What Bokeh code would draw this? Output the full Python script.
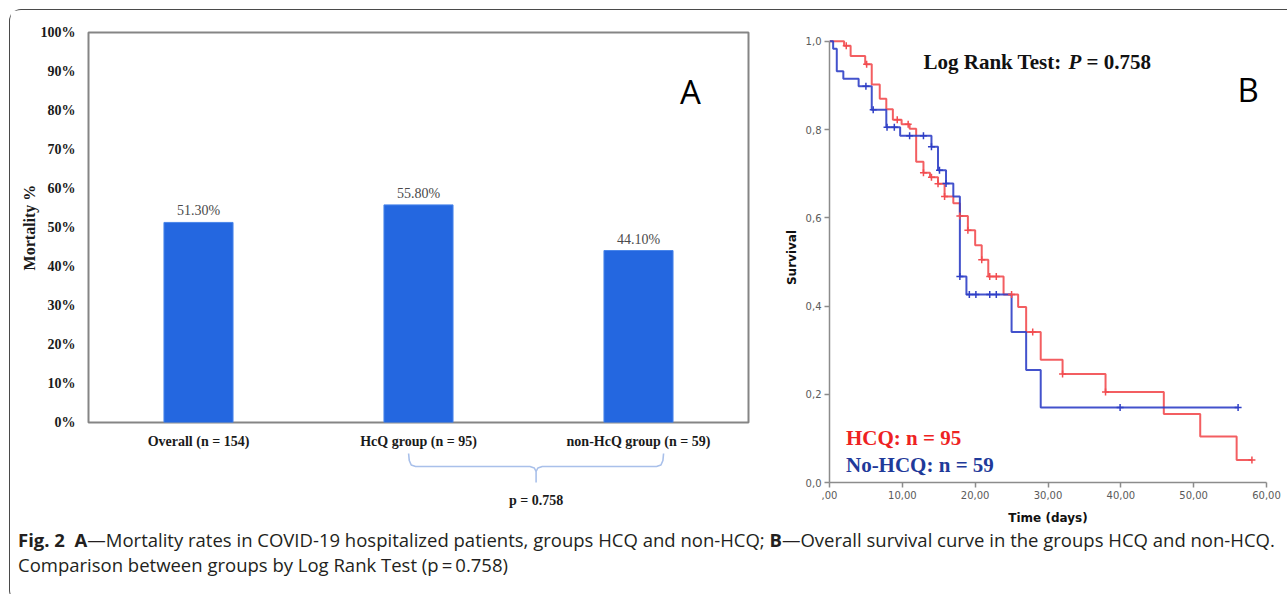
from bokeh.plotting import figure
from bokeh.models import FactorRange, Range1d, FixedTicker, Label, Div
from bokeh.layouts import row, column
from bokeh.embed import file_html
from bokeh.resources import INLINE
from bokeh.core.properties import value

# ---------------- data: panel A ----------------
categories = ["Overall (n = 154)", "HcQ group (n = 95)", "non-HcQ group (n = 59)"]
mortality = [51.3, 55.8, 44.1]
mortality_labels = ["51.30%", "55.80%", "44.10%"]
a_ticks = [0, 10, 20, 30, 40, 50, 60, 70, 80, 90, 100]
a_tick_labels = ["0%", "10%", "20%", "30%", "40%", "50%", "60%", "70%", "80%", "90%", "100%"]
p_text = "p = 0.758"

# ---------------- data: panel B (Kaplan-Meier) ----------------
hcq_time = [0, 2.0, 2.9, 4.9, 5.8, 6.9, 7.8, 8.7, 9.9, 11.0, 11.9, 12.9, 13.8, 14.9, 15.8,
            17.0, 17.9, 19.0, 20.0, 20.9, 21.8, 23.9, 25.9, 27.0, 29.0, 32.0, 37.9, 45.9,
            50.9, 55.9, 58.0]
hcq_surv = [1.0, 0.990, 0.967, 0.948, 0.902, 0.870, 0.846, 0.822, 0.812, 0.802, 0.727,
            0.702, 0.692, 0.677, 0.648, 0.633, 0.604, 0.572, 0.538, 0.505, 0.467, 0.426,
            0.398, 0.341, 0.278, 0.246, 0.205, 0.155, 0.104, 0.051, 0.051]
hcq_cens_time = [2.3, 5.1, 9.3, 10.8, 12.9, 14.0, 14.9, 15.8, 17.9, 19.0, 20.9, 22.0, 22.9,
                 25.0, 27.9, 32.0, 37.9, 58.0]
hcq_cens_surv = [0.990, 0.948, 0.822, 0.812, 0.702, 0.692, 0.677, 0.648, 0.604, 0.572, 0.505,
                 0.467, 0.467, 0.426, 0.341, 0.246, 0.205, 0.051]

nohcq_time = [0, 0.5, 1.0, 1.9, 4.0, 5.8, 7.8, 9.7, 14.0, 14.9, 16.0, 17.0, 17.9, 18.8,
              25.0, 27.0, 29.0, 56.1]
nohcq_surv = [1.0, 0.983, 0.932, 0.915, 0.898, 0.845, 0.805, 0.786, 0.761, 0.708, 0.678,
              0.648, 0.467, 0.426, 0.341, 0.255, 0.170, 0.170]
nohcq_cens_time = [5.0, 6.0, 7.9, 8.9, 11.0, 12.9, 14.0, 15.1, 16.0, 17.9, 19.2, 20.1, 22.0,
                   22.9, 39.9, 56.1]
nohcq_cens_surv = [0.898, 0.845, 0.805, 0.805, 0.786, 0.786, 0.761, 0.708, 0.678, 0.467,
                   0.426, 0.426, 0.426, 0.426, 0.170, 0.170]

b_xticks = [0, 10, 20, 30, 40, 50, 60]
b_xtick_labels = [",00", "10,00", "20,00", "30,00", "40,00", "50,00", "60,00"]
b_yticks = [0.0, 0.2, 0.4, 0.6, 0.8, 1.0]
b_ytick_labels = ["0,0", "0,2", "0,4", "0,6", "0,8", "1,0"]

SERIF = "Liberation Serif"
SANS = "DejaVu Sans"
BIG = "Open Sans"

# ---------------- panel A ----------------
pA = figure(width=770, height=442, x_range=FactorRange(*categories), y_range=Range1d(0, 100),
            output_backend="svg", toolbar_location=None,
            min_border_left=78, min_border_right=32, min_border_top=22, min_border_bottom=30)
pA.vbar(x=categories, top=mortality, width=0.314, fill_color="#2467E0", line_color="#4a86ea",
        line_width=1)
pA.text(x=categories, y=mortality, text=mortality_labels, text_align="center",
        text_baseline="bottom", y_offset=-4, text_font=value(SERIF), text_font_size="14px",
        text_color="#4a4a4a")
pA.xgrid.visible = False
pA.ygrid.visible = False
pA.outline_line_color = "#858585"
pA.outline_line_width = 2
pA.background_fill_color = "white"

ya = pA.yaxis[0]
ya.ticker = FixedTicker(ticks=a_ticks)
ya.major_label_overrides = dict(zip(a_ticks, a_tick_labels))
ya.axis_line_color = None
ya.major_tick_line_color = None
ya.minor_tick_line_color = None
ya.major_label_standoff = 7
ya.major_label_text_font = SERIF
ya.major_label_text_font_style = "bold"
ya.major_label_text_font_size = "14px"
ya.major_label_text_color = "#1a1a1a"
ya.axis_label = "Mortality %"
ya.axis_label_text_font = SERIF
ya.axis_label_text_font_style = "bold"
ya.axis_label_text_font_size = "16px"
ya.axis_label_text_color = "#1a1a1a"
ya.axis_label_standoff = 0

xa = pA.xaxis[0]
xa.axis_line_color = None
xa.major_tick_line_color = None
xa.major_label_standoff = 5
xa.major_label_text_font = SERIF
xa.major_label_text_font_style = "bold"
xa.major_label_text_font_size = "14px"
xa.major_label_text_color = "#1a1a1a"

pA.add_layout(Label(x=2.736, y=85.0, text="A", text_font=BIG, text_font_size="33px",
                    text_align="center", text_baseline="middle", text_color="black"))

# ---------------- brace under panel A ----------------
pBr = figure(width=770, height=76, x_range=Range1d(0, len(categories)), y_range=Range1d(76, 0),
             output_backend="svg", toolbar_location=None, x_axis_type=None, y_axis_type=None,
             min_border_left=78, min_border_right=32, min_border_top=0, min_border_bottom=0)
pBr.outline_line_color = None
pBr.xgrid.visible = False
pBr.ygrid.visible = False
c1 = categories.index("HcQ group (n = 95)") + 0.5
c2 = categories.index("non-HcQ group (n = 59)") + 0.5
bl = c1 - 0.045
br = c2 + 0.114
bm = (bl + br) / 2
d = 0.02
pBr.multi_line(xs=[[bl, bl + 0.003, bl + d * 0.6, bl + d * 1.6, bm - d * 1.4, bm - d * 0.4, bm, bm],
                   [bm, bm + d * 0.4, bm + d * 1.4, br - d * 1.6, br - d * 0.6, br - 0.003, br]],
               ys=[[1, 8, 12.5, 14, 14, 15.5, 19, 30],
                   [19, 15.5, 14, 14, 12.5, 8, 1]],
               line_color="#a9c0ea", line_width=1.6)
pBr.text(x=[bm], y=[47.5], text=[p_text], text_align="center", text_baseline="middle",
         text_font=value(SERIF), text_font_style="bold", text_font_size="14px",
         text_color="#1a1a1a")

# ---------------- panel B ----------------
pB = figure(width=506, height=518, x_range=Range1d(0, 60), y_range=Range1d(0, 1.02),
            output_backend="svg", toolbar_location=None,
            min_border_left=49, min_border_right=20, min_border_top=22, min_border_bottom=46)
pB.outline_line_color = None
pB.xgrid.visible = False
pB.ygrid.visible = False

RED = "#F24C50"
BLUE = "#2F3FC6"
pB.step(x=hcq_time, y=hcq_surv, mode="after", line_color=RED, line_width=2, line_alpha=0.9)
pB.step(x=nohcq_time, y=nohcq_surv, mode="after", line_color=BLUE, line_width=2, line_alpha=0.9)
pB.scatter(x=hcq_cens_time, y=hcq_cens_surv, marker="cross", size=7, line_color=RED,
           line_width=1.5)
pB.scatter(x=nohcq_cens_time, y=nohcq_cens_surv, marker="cross", size=7, line_color=BLUE,
           line_width=1.5)

for ax, ticks, labels in ((pB.xaxis[0], b_xticks, b_xtick_labels),
                          (pB.yaxis[0], b_yticks, b_ytick_labels)):
    ax.ticker = FixedTicker(ticks=ticks)
    ax.major_label_overrides = dict(zip(ticks, labels))
    ax.axis_line_color = "#8c8c8c"
    ax.axis_line_width = 1.5
    ax.major_tick_line_color = "#8c8c8c"
    ax.major_tick_line_width = 1.5
    ax.major_tick_out = 5
    ax.major_tick_in = 0
    ax.minor_tick_line_color = None
    ax.major_label_text_font = SANS
    ax.major_label_text_font_size = "10px"
    ax.major_label_text_color = "#5a5a5a"
    ax.major_label_standoff = 3
    ax.axis_label_text_font = SANS
    ax.axis_label_text_font_style = "bold"
    ax.axis_label_text_font_size = "12px"
    ax.axis_label_text_color = "#111111"
pB.xaxis[0].bounds = (0, 60)
pB.yaxis[0].bounds = (0, 1)
pB.xaxis[0].axis_label = "Time (days)"
pB.xaxis[0].axis_label_standoff = 9
pB.yaxis[0].axis_label = "Survival"
pB.yaxis[0].axis_label_standoff = 4

# Log rank annotation (P in italics)
lx, ly = 12.9, 0.954
tf = value(SERIF)
pB.text(x=[lx], y=[ly], text=["Log Rank Test:"], text_baseline="middle", text_font=tf,
        text_font_style="bold", text_font_size="21px", text_color="#111111")
pB.text(x=[lx], y=[ly], text=["P"], x_offset=145, text_baseline="middle", text_font=tf,
        text_font_style="bold italic", text_font_size="21px", text_color="#111111")
pB.text(x=[lx], y=[ly], text=["= 0.758"], x_offset=163, text_baseline="middle", text_font=tf,
        text_font_style="bold", text_font_size="21px", text_color="#111111")

pB.add_layout(Label(x=57.47, y=0.89, text="B", text_font=BIG, text_font_size="33px",
                    text_align="center", text_baseline="middle", text_color="black"))

pB.text(x=[2.26, 2.26], y=[0.102, 0.040], text=["HCQ: n = 95", "No-HCQ: n = 59"],
        text_baseline="middle", text_font=tf, text_font_style="bold", text_font_size="21px",
        text_color=["#EE2222", "#1F3A9A"])

# ---------------- caption ----------------
cap = Div(text=('<b>Fig. 2</b>&nbsp;&nbsp;<b>A</b>\u2014Mortality rates in COVID-19 hospitalized '
                'patients, groups HCQ and non-HCQ; <b>B</b>\u2014Overall survival curve in the '
                'groups HCQ and non-HCQ.<br>Comparison between groups by Log Rank Test '
                '(p\u2009=\u20090.758)'),
          width=1276, height=64,
          styles={"font-family": "Open Sans", "font-size": "18.5px", "line-height": "25px",
                  "color": "#231f20", "padding-left": "3px", "white-space": "nowrap",
                  "position": "relative", "top": "-6px"})

layout = column(row(column(pA, pBr), pB), cap,
                styles={"border-top": "1.5px solid #4a4a4a", "border-left": "1.5px solid #4a4a4a",
                        "border-top-left-radius": "12px", "border-bottom-left-radius": "12px",
                        "margin-left": "9px", "margin-top": "9px"})

open("out.html", "w").write(file_html(layout, INLINE))
